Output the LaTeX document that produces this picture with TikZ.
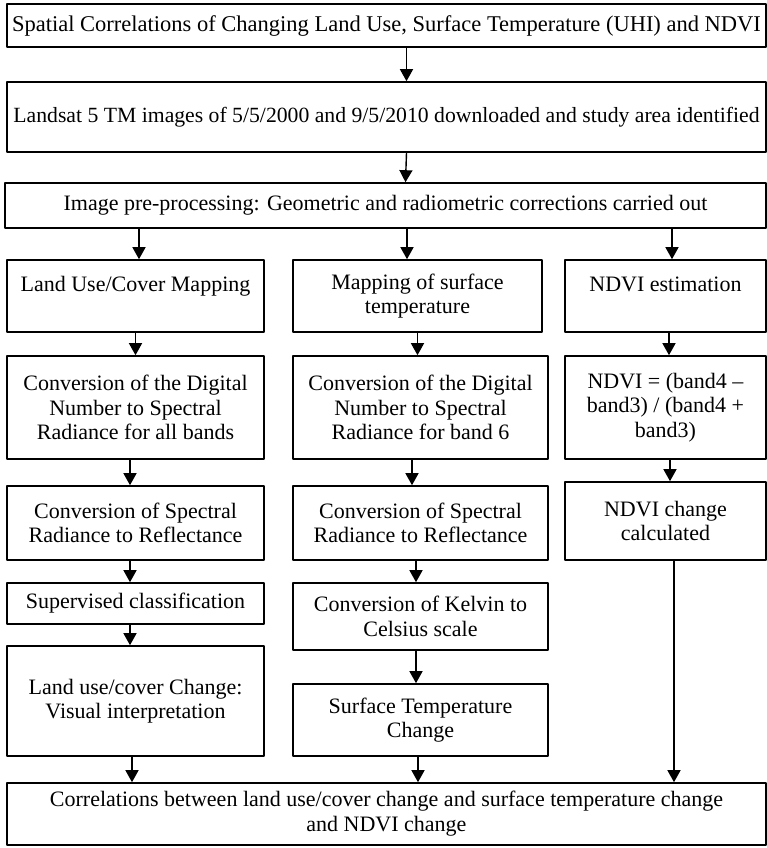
\documentclass[tikz,border=0pt]{standalone}
\usepackage{fontspec}
\setmainfont{Liberation Serif}
\usetikzlibrary{arrows.meta}
\begin{document}
\begin{tikzpicture}[line join=round,
    box/.style={draw, line width=0.8pt, align=center, inner sep=1pt,
                font=\fontsize{11}{12.25}\selectfont},
    arr/.style={line width=0.7pt, -{Triangle[length=6pt,width=6.5pt]}}]
    \def\ca{67.75pt} \def\cb{210.25pt} \def\cc{332.75pt}
    \useasboundingbox (0,0) rectangle (383.5pt,-424pt);
    % top row
    \node[box, minimum width=379.5pt, minimum height=21.5pt, font=\fontsize{11.25}{12.25}\selectfont]
        (title) at (193.25pt,-12.75pt)
        {Spatial Correlations of Changing Land Use, Surface Temperature (UHI) and NDVI};
    \node[box, minimum width=379.5pt, minimum height=35pt, font=\fontsize{10.85}{12.25}\selectfont]
        (landsat) at (193.25pt,-58.5pt)
        {Landsat 5 TM images of 5/5/2000 and 9/5/2010 downloaded and study area identified};
    \node[box, minimum width=380.5pt, minimum height=22.5pt] (prep) at (192.75pt,-102.75pt)
        {Image pre-processing: Geometric and radiometric corrections carried out};
    % column 1: land use
    \node[box, minimum width=128.5pt, minimum height=36pt] (lumap) at (\ca,-148pt)
        {Land Use/Cover Mapping\\ \mbox{}};
    \node[box, minimum width=128.5pt, minimum height=51.5pt] (ludn) at (\ca,-203.75pt)
        {Conversion of the Digital\\ Number to Spectral\\ Radiance for all bands};
    \node[box, minimum width=128.5pt, minimum height=37pt] (lurefl) at (\ca,-261.5pt)
        {Conversion of Spectral\\ Radiance to Reflectance};
    \node[box, minimum width=128.5pt, minimum height=20.5pt] (lucls) at (\ca,-301.75pt)
        {Supervised classification};
    \node[box, minimum width=128.5pt, minimum height=55pt] (luchg) at (\ca,-350.5pt)
        {Land use/cover Change:\\ Visual interpretation};
    % column 2: surface temperature
    \node[box, minimum width=124.5pt, minimum height=36pt] (stmap) at (208.75pt,-148pt)
        {Mapping of surface\\ temperature};
    \node[box, minimum width=127.5pt, minimum height=51.5pt] (stdn) at (\cb,-203.75pt)
        {Conversion of the Digital\\ Number to Spectral\\ Radiance for band 6};
    \node[box, minimum width=127.5pt, minimum height=37pt] (strefl) at (\cb,-261.5pt)
        {Conversion of Spectral\\ Radiance to Reflectance};
    \node[box, minimum width=127.5pt, minimum height=33.5pt] (stkel) at (\cb,-308.25pt)
        {Conversion of Kelvin to\\ Celsius scale};
    \node[box, minimum width=127.5pt, minimum height=36pt] (stchg) at (\cb,-360pt)
        {Surface Temperature\\ Change};
    % column 3: NDVI
    \node[box, minimum width=100.5pt, minimum height=36pt] (ndest) at (\cc,-148pt)
        {NDVI estimation\\ \mbox{}};
    \node[box, minimum width=100.5pt, minimum height=51.5pt] (ndform) at (\cc,-203.75pt)
        {NDVI = (band4 \textendash\\ band3) / (band4 +\\ band3)};
    \node[box, minimum width=100.5pt, minimum height=39pt] (ndchg) at (\cc,-260.5pt)
        {NDVI change\\ calculated};
    % bottom row
    \node[box, minimum width=379.5pt, minimum height=31pt, text depth=3pt] (corr) at (193.25pt,-407pt)
        {Correlations between land use/cover change and surface temperature change\\ and NDVI change};
    % arrows
    \draw[arr] ([xshift=10pt]title.south) -- ([xshift=10pt]landsat.north);
    \draw[arr] ([xshift=10pt]landsat.south) -- ([xshift=10pt]prep.north);
    \draw[arr] ([xshift=1.75pt]lumap.north |- prep.south) -- ([xshift=1.75pt]lumap.north);
    \draw[arr] ([xshift=-5.25pt]stmap.north |- prep.south) -- ([xshift=-5.25pt]stmap.north);
    \draw[arr] ([xshift=3.25pt]ndest.north |- prep.south) -- ([xshift=3.25pt]ndest.north);
    \draw[arr] (lumap) -- (ludn);
    \draw[arr] ([xshift=-1.5pt]stdn.north |- stmap.south) -- ([xshift=-1.5pt]stdn.north);
    \draw[arr] ([xshift=1.75pt]ndest.south) -- ([xshift=1.75pt]ndform.north);
    \draw[arr] ([xshift=-2.75pt]ludn.south) -- ([xshift=-2.75pt]lurefl.north);
    \draw[arr] ([xshift=-4.25pt]stdn.south) -- ([xshift=-4.25pt]strefl.north);
    \draw[arr] ([xshift=2.25pt]ndform.south) -- ([xshift=2.25pt]ndchg.north);
    \draw[arr] ([xshift=-2.75pt]lurefl.south) -- ([xshift=-2.75pt]lucls.north);
    \draw[arr] ([xshift=-2.25pt]strefl.south) -- ([xshift=-2.25pt]stkel.north);
    \draw[arr] ([xshift=-2.75pt]lucls.south) -- ([xshift=-2.75pt]luchg.north);
    \draw[arr] ([xshift=-2.25pt]stkel.south) -- ([xshift=-2.25pt]stchg.north);
    \draw[arr] ([xshift=-1.75pt]luchg.south) -- ([xshift=-1.75pt]luchg.south |- corr.north);
    \draw[arr] ([xshift=-1.25pt]stchg.south) -- ([xshift=-1.25pt]stchg.south |- corr.north);
    \draw[arr] ([xshift=4.25pt]ndchg.south) -- ([xshift=4.25pt]ndchg.south |- corr.north);
\end{tikzpicture}
\end{document}
